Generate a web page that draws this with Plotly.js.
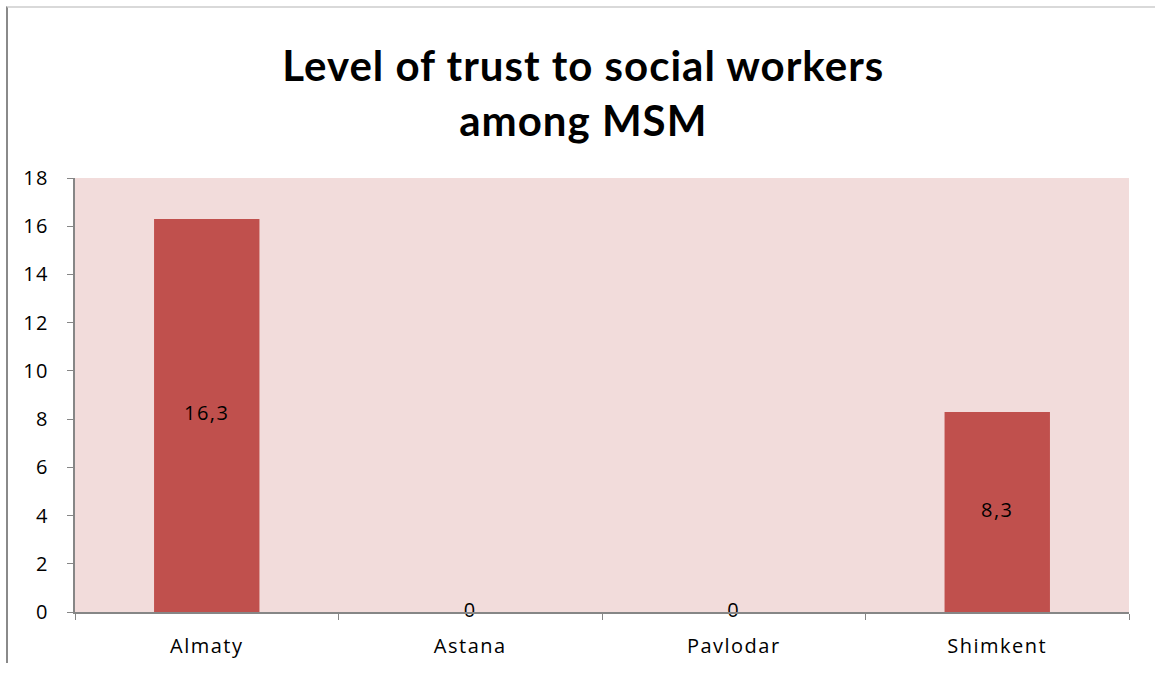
<!DOCTYPE html>
<html>
<head>
<meta charset="utf-8">
<script src="https://cdn.plot.ly/plotly-3.0.1.min.js"></script>
<style>
html,body{margin:0;padding:0;background:#fff;}
#chart{width:1155px;height:673px;position:relative;}
#frame{position:absolute;left:6px;top:6px;width:1149px;height:655px;border-left:2px solid #8a8a8a;border-top:2px solid #d9d9d9;pointer-events:none;}
.gtitle{letter-spacing:1px;}
.xtick text, .ytick text, .textpoint text{letter-spacing:1.5px;}
</style>
</head>
<body>
<div id="chart"></div>
<div id="frame"></div>
<script>
const categories = ["Almaty", "Astana", "Pavlodar", "Shimkent"];
const values = [16.3, 0, 0, 8.3];
const yTicks = [0, 2, 4, 6, 8, 10, 12, 14, 16, 18];

const labels = values.map(v => String(v).replace('.', ','));
const labelY = values.map(v => v / 2);

const barTrace = {
  type: 'bar',
  x: categories,
  y: values,
  marker: {color: '#C0504D'},
  hoverinfo: 'none'
};
const textTrace = {
  type: 'scatter',
  mode: 'text',
  x: categories,
  y: labelY,
  text: labels,
  textposition: 'middle center',
  textfont: {family: '"Open Sans", sans-serif', size: 20, color: '#000'},
  hoverinfo: 'none',
  cliponaxis: false
};

const layout = {
  width: 1155,
  height: 673,
  margin: {l: 75, r: 26, t: 178, b: 61},
  paper_bgcolor: '#ffffff',
  plot_bgcolor: '#F2DCDB',
  showlegend: false,
  bargap: 0.6,
  font: {family: '"Open Sans", sans-serif', size: 20, color: '#000'},
  title: {
    text: 'Level of trust to social workers<br>among MSM',
    font: {family: 'Lato, "Open Sans", sans-serif', size: 42, color: '#000', weight: 'bold'},
    x: 0.505, xanchor: 'center',
    yref: 'container',
    y: 0.879, yanchor: 'middle'
  },
  xaxis: {
    type: 'category',
    tickson: 'boundaries',
    ticks: 'outside',
    ticklen: 6,
    tickcolor: '#868686',
    tickwidth: 1,
    showline: true,
    linecolor: '#868686',
    linewidth: 2,
    showgrid: false,
    zeroline: false,
    fixedrange: true,
    tickfont: {size: 20},
    ticklabelstandoff: 15
  },
  yaxis: {
    range: [0, 18],
    tickvals: yTicks,
    ticktext: yTicks.map(String),
    ticks: 'outside',
    ticklen: 6,
    tickcolor: '#868686',
    tickwidth: 1,
    showline: true,
    linecolor: '#868686',
    linewidth: 2,
    showgrid: false,
    zeroline: false,
    fixedrange: true,
    tickfont: {size: 20},
    ticklabelstandoff: 14
  }
};

Plotly.newPlot('chart', [barTrace, textTrace], layout, {displayModeBar: false, staticPlot: true});
</script>
</body>
</html>
